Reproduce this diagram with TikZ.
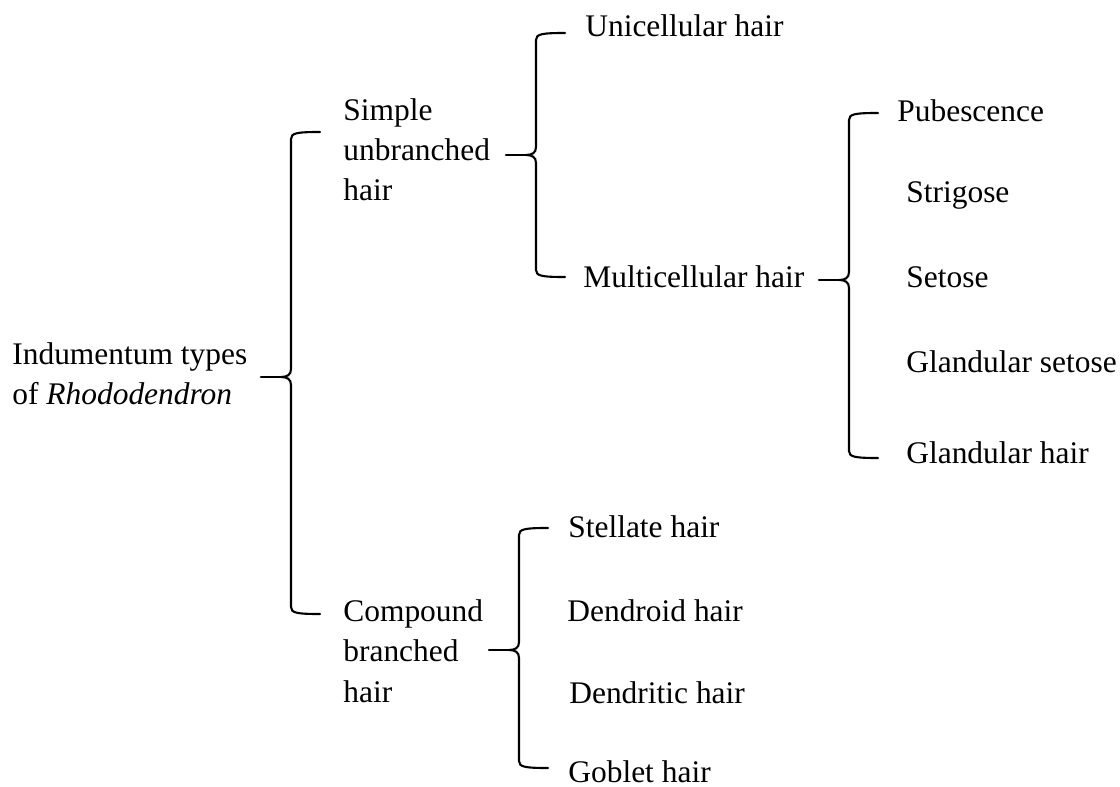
\documentclass[tikz,border=0pt]{standalone}
\usepackage{fontspec}
\setmainfont{Liberation Serif}
\usepackage{tikz}

% one curly bracket: x of the stem, y of top, tip and bottom
\newcommand{\hairbrace}[4]{%
 \draw[brace line] ({#1+29},#2) .. controls ({#1+6},#2) and (#1,{#2+1}) .. (#1,{#2+7})
  -- (#1,{#3-8}) .. controls (#1,{#3-2}) and ({#1-4},#3) .. ({#1-10},#3)
  .. controls ({#1-4},#3) and (#1,{#3+2}) .. (#1,{#3+8})
  -- (#1,{#4-7}) .. controls (#1,{#4-1}) and ({#1+6},#4) .. ({#1+29},#4);
 \draw[brace line] ({#1-10},#3) -- ({#1-30},#3);
}

\begin{document}
\begin{tikzpicture}[x=0.02cm,y=-0.02cm,
 brace line/.style={line width=1.2pt,line cap=round},
 hairtype/.style={anchor=base west,inner sep=0pt,align=left,
  font=\fontsize{17.9}{22.8}\selectfont}]
\useasboundingbox (0,0) rectangle (1120,787);
% multi-line texts sit on the baseline of their last line
\node[hairtype] (root) at (12,405) {Indumentum types\\of \textit{Rhododendron}};
\node[hairtype] (simple) at (343,201) {Simple\\unbranched\\hair};
\node[hairtype] (compound) at (343,702) {Compound\\branched\\hair};
\node[hairtype] (uni) at (585,37) {Unicellular hair};
\node[hairtype] (multi) at (583,288) {Multicellular hair};
\node[hairtype] (pub) at (897,122) {Pubescence};
\node[hairtype] (strig) at (906,203) {Strigose};
\node[hairtype] (set) at (906,288) {Setose};
\node[hairtype] (glset) at (906,373) {Glandular setose};
\node[hairtype] (glhair) at (906,463) {Glandular hair};
\node[hairtype] (stell) at (568,537) {Stellate hair};
\node[hairtype] (dendroid) at (567,621) {Dendroid hair};
\node[hairtype] (dendritic) at (569,703) {Dendritic hair};
\node[hairtype] (goblet) at (568,782) {Goblet hair};
\hairbrace{291}{132}{377}{614}
\hairbrace{536}{33}{155}{277}
\hairbrace{849}{113}{280}{458}
\hairbrace{519}{528}{650}{768}
\end{tikzpicture}
\end{document}
